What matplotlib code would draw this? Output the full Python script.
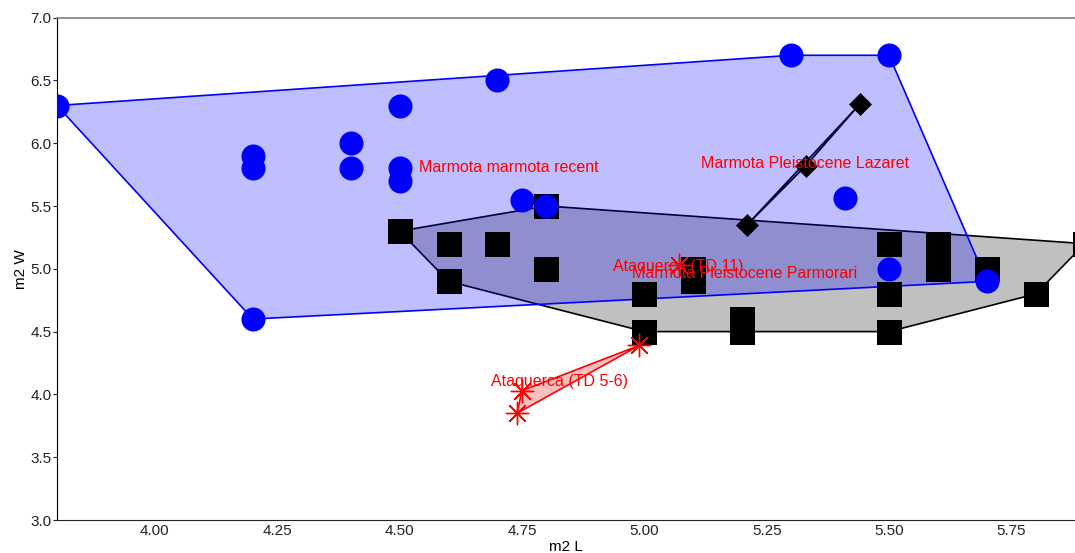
# -*- coding: utf-8 -*-
"""
m2 L x m2 W scatter with convex hulls per group
"""
import numpy as np
import matplotlib
matplotlib.use("Agg")
import matplotlib.pyplot as plt
from matplotlib.patches import Polygon

plt.rcParams["font.family"] = ["Liberation Sans", "DejaVu Sans"]

# ----------------------------------------------------------------------
# data
# ----------------------------------------------------------------------
recent_L = [3.8, 4.2, 4.2, 4.2, 4.4, 4.4, 4.5, 4.5, 4.5, 4.7, 4.75, 4.8,
            5.3, 5.5, 5.41, 5.5, 5.7]
recent_W = [6.3, 5.9, 5.8, 4.6, 6.0, 5.8, 6.3, 5.8, 5.7, 6.5, 5.55, 5.5,
            6.7, 6.7, 5.56, 5.0, 4.9]

parmorari_L = [4.5, 4.6, 4.7, 4.6, 4.8, 4.8, 5.0, 5.0, 5.1, 5.1, 5.2, 5.2,
               5.5, 5.5, 5.5, 5.6, 5.6, 5.6, 5.7, 5.8, 5.9]
parmorari_W = [5.3, 5.2, 5.2, 4.9, 5.5, 5.0, 4.8, 4.5, 5.0, 4.9, 4.6, 4.5,
               5.2, 4.8, 4.5, 5.2, 5.1, 5.0, 5.0, 4.8, 5.2]

lazaret_L = [5.21, 5.33, 5.44]
lazaret_W = [5.35, 5.82, 6.31]

td56_L = [4.99, 4.75, 4.74]
td56_W = [4.39, 4.03, 3.85]

td11_L = [5.07]
td11_W = [5.03]

labels = ["Marmota marmota recent", "Marmota Pleistocene Lazaret",
          "Ataquerca (TD 11)", "Marmota Pleistocene Parmorari",
          "Ataquerca (TD 5-6)"]
label_L = [4.54, 5.115, 4.937, 4.974, 4.686]
label_W = [5.81, 5.835, 5.015, 4.966, 4.10]


def hull(xs, ys):
    pts = sorted(set(zip(xs, ys)))
    if len(pts) < 3:
        return pts

    def cross(o, a, b):
        return (a[0] - o[0]) * (b[1] - o[1]) - (a[1] - o[1]) * (b[0] - o[0])

    lower, upper = [], []
    for p in pts:
        while len(lower) >= 2 and cross(lower[-2], lower[-1], p) <= 0:
            lower.pop()
        lower.append(p)
    for p in reversed(pts):
        while len(upper) >= 2 and cross(upper[-2], upper[-1], p) <= 0:
            upper.pop()
        upper.append(p)
    return lower[:-1] + upper[:-1]


fig = plt.figure(figsize=(10.75, 5.53), dpi=100)
ax = fig.add_axes([57 / 1075, 33 / 553, 1 - 57 / 1075, (520 - 17.6) / 553])

# hulls
ax.add_patch(Polygon(hull(parmorari_L, parmorari_W), closed=True,
                     facecolor="#c0c0c0", edgecolor="black", lw=1.2,
                     zorder=1))
ax.add_patch(Polygon(hull(lazaret_L, lazaret_W), closed=True,
                     facecolor="#c0c0c0", edgecolor="black", lw=1.2,
                     zorder=1))
ax.add_patch(Polygon(hull(td56_L, td56_W), closed=True,
                     facecolor=(1, 0, 0, 0.25), edgecolor="red", lw=1.2,
                     zorder=1))
ax.add_patch(Polygon(hull(recent_L, recent_W), closed=True,
                     facecolor=(0, 0, 1, 0.25), edgecolor="blue", lw=1.2,
                     zorder=2))

# points
ax.scatter(parmorari_L, parmorari_W, marker="s", s=324, color="black",
           lw=0, zorder=3)
ax.scatter(lazaret_L, lazaret_W, marker="D", s=137, color="black",
           lw=0, zorder=3)
ax.scatter(recent_L, recent_W, marker="o", s=300, color="blue",
           lw=0, zorder=4)
star = (8, 2, 0)
ax.scatter(td56_L, td56_W, marker=star, s=260, color="red", lw=1,
           zorder=4)
ax.scatter(td11_L, td11_W, marker=star, s=260, color="red", lw=1,
           zorder=4)

for t, lx, ly in zip(labels, label_L, label_W):
    ax.text(lx, ly, t, color="red", fontsize=11.5, ha="left", va="center",
            zorder=5)

ax.set_xlim(3.8, 5.88)
ax.set_ylim(3.0, 7.0)
ax.set_xticks([4.0, 4.25, 4.5, 4.75, 5.0, 5.25, 5.5, 5.75])
ax.set_xticklabels(["4.00", "4.25", "4.50", "4.75", "5.00", "5.25", "5.50",
                    "5.75"])
ax.set_yticks(np.arange(3.0, 7.01, 0.5))
ax.set_yticklabels([f"{v:.1f}" for v in np.arange(3.0, 7.01, 0.5)])
ax.tick_params(axis="x", length=0, pad=3, labelsize=11, colors="#222222")
ax.tick_params(axis="y", length=3, pad=1, labelsize=11, colors="#222222")
ax.set_xlabel("m2 L", fontsize=11, labelpad=1)
ax.set_ylabel("m2 W", fontsize=11, labelpad=2)

ax.spines["right"].set_visible(False)
ax.spines["top"].set_color("#808080")
ax.spines["top"].set_linewidth(1.2)
ax.spines["left"].set_color("black")
ax.spines["bottom"].set_color("#222222")

fig.savefig("out.png", dpi=100)
